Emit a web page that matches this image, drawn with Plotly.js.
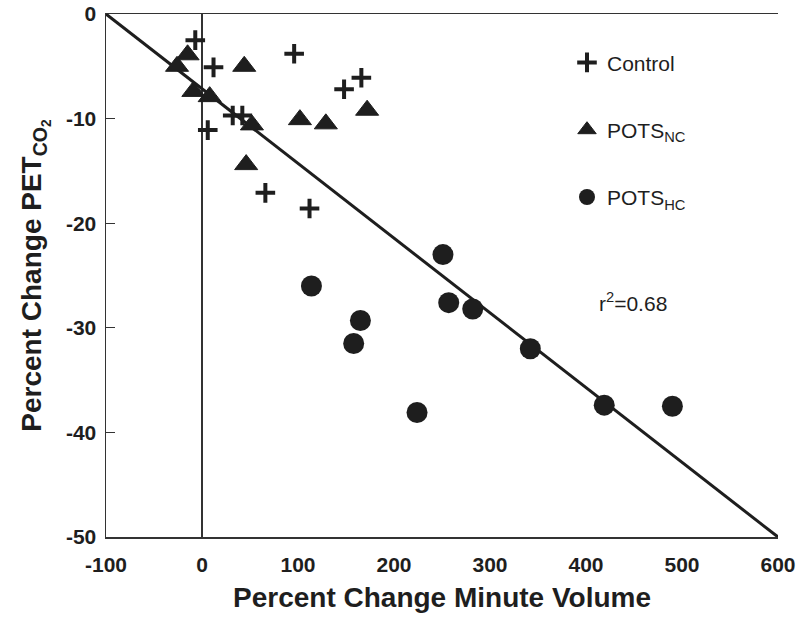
<!DOCTYPE html>
<html>
<head>
<meta charset="utf-8">
<script src="https://cdn.plot.ly/plotly-3.0.1.min.js"></script>
<style>html,body{margin:0;padding:0;background:#fff;}#chart{width:803px;height:624px;}</style>
</head>
<body>
<div id="chart"></div>
<script>
// Control
var controlX = [-7, 12, 96, 148, 166, 32, 42, 6, 66, 112];
var controlY = [-2.5, -5.1, -3.8, -7.2, -6.1, -9.7, -9.7, -11.1, -17.1, -18.6];
// POTS NC
var potsNCX = [-15, -26, 44, -9, 8, 52, 102, 129, 172, 46];
var potsNCY = [-3.9, -5.0, -5.0, -7.4, -7.9, -10.6, -10.1, -10.5, -9.2, -14.4];
// POTS HC
var potsHCX = [251, 114, 257, 282, 165, 158, 342, 224, 419, 490];
var potsHCY = [-23.0, -26.0, -27.6, -28.2, -29.3, -31.5, -32.0, -38.1, -37.4, -37.5];
// regression line
var fitX = [-100, 600];
var fitY = [0, -50];
var xTicks = [-100, 0, 100, 200, 300, 400, 500, 600];
var yTicks = [0, -10, -20, -30, -40, -50];

var FONT = "Liberation Sans, Arial, sans-serif";
var INK = "#1e1e1e";

var traces = [
  {x: fitX, y: fitY, mode: "lines", line: {color: INK, width: 3}, showlegend: false, hoverinfo: "skip"},
  {x: controlX, y: controlY, mode: "markers", name: "Control", legendgroup: "a",
   marker: {symbol: "cross-thin", size: 14, color: INK, line: {color: INK, width: 4}}},
  {x: potsNCX, y: potsNCY, mode: "markers", name: "POTS<sub>NC</sub>", legendgroup: "b",
   marker: {symbol: "triangle-up", size: 20, color: INK, line: {color: INK, width: 1}}},
  {x: potsHCX, y: potsHCY, mode: "markers", name: "POTS<sub>HC</sub>", legendgroup: "c",
   marker: {symbol: "circle", size: 21, color: INK, line: {width: 0}}}
];

var layout = {
  width: 803, height: 624,
  margin: {l: 106, r: 25, t: 14, b: 87},
  paper_bgcolor: "#fff", plot_bgcolor: "#fff",
  font: {family: FONT, color: INK},
  showlegend: true,
  legend: {x: 0.686, y: 0.946, xanchor: "left", yanchor: "top", bgcolor: "rgba(0,0,0,0)",
           font: {family: FONT, size: 21, color: INK}, tracegroupgap: 37, itemclick: false},
  xaxis: {
    range: [-100, 600], tickvals: xTicks, ticktext: xTicks.map(String),
    showgrid: false, zeroline: true, zerolinecolor: "#333", zerolinewidth: 1.5,
    showline: true, linecolor: "#333", linewidth: 1.5, mirror: true,
    ticks: "", ticklabelstandoff: 8,
    tickfont: {family: FONT, size: 21, color: INK, weight: "bold"},
    title: {text: "<b>Percent Change Minute Volume</b>", standoff: 12,
            font: {family: FONT, size: 28, color: INK}}
  },
  yaxis: {
    range: [-50, 0], tickvals: yTicks, ticktext: yTicks.map(String),
    showgrid: false, zeroline: false,
    showline: true, linecolor: "#333", linewidth: 1.5, mirror: false,
    ticks: "inside", ticklen: 9, tickwidth: 1.3, tickcolor: "#333", ticklabelstandoff: 4,
    tickfont: {family: FONT, size: 21, color: INK, weight: "bold"},
    title: {text: "<b>Percent Change PET<sub>CO<sub>2</sub></sub></b>", standoff: 16,
            font: {family: FONT, size: 28, color: INK}}
  },
  annotations: [
    {x: 449, y: -27.5, xref: "x", yref: "y", text: "r<sup>2</sup>=0.68", showarrow: false,
     font: {family: FONT, size: 21, color: INK}}
  ]
};

Plotly.newPlot("chart", traces, layout, {staticPlot: true, displayModeBar: false});
</script>
</body>
</html>
